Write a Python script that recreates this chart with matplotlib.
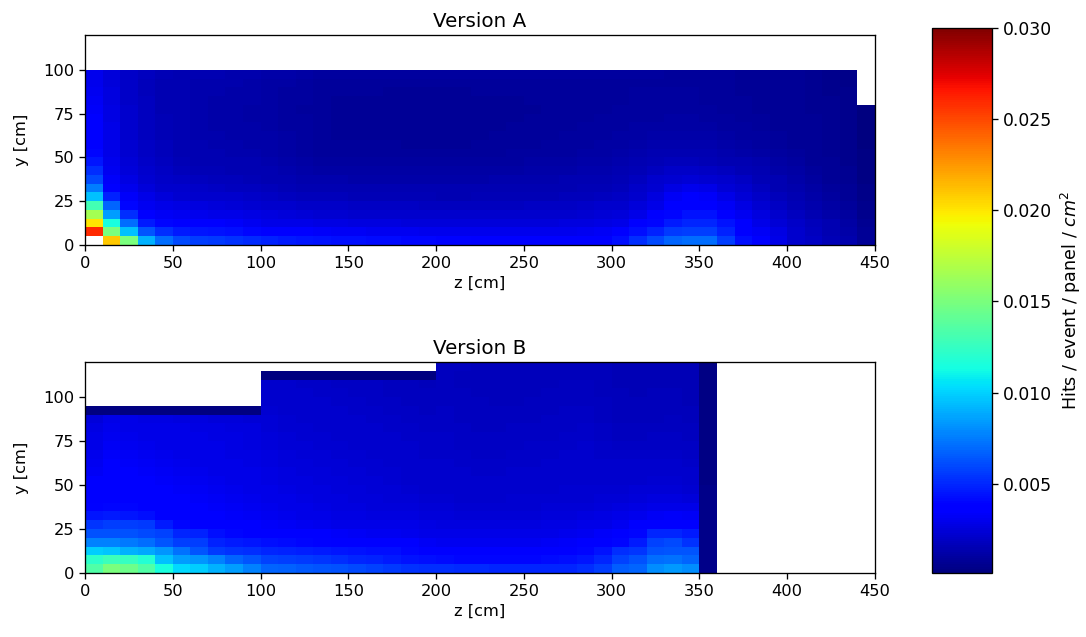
import numpy as np
import matplotlib
matplotlib.use("Agg")
import matplotlib.pyplot as plt

nan = np.nan

# hit rate per cell, in units of 1e-4 hits / event / panel / cm^2
# rows go from y=0 upward (5 cm each), columns from z=0 (10 cm each)
version_a = [
    [nan, 210, 150, 90, 70, 60, 56, 55, 53, 51, 48, 46, 45, 44, 43, 42, 41, 41, 40, 40, 39, 39, 38, 38, 38, 38, 38, 37, 37, 38, 42, 52, 60, 68, 70, 70, 56, 42, 35, 28, 22, 19, 16, 13, 8],
    [260, 150, 95, 63, 52, 46, 45, 44, 42, 40, 37, 35, 34, 33, 32, 32, 31, 31, 31, 30, 30, 30, 30, 30, 30, 30, 30, 30, 31, 32, 34, 42, 48, 55, 57, 56, 48, 38, 32, 27, 22, 18, 15, 12, 7],
    [200, 115, 70, 46, 40, 37, 36, 34, 33, 31, 29, 28, 28, 27, 27, 26, 26, 26, 25, 25, 25, 25, 25, 25, 25, 25, 25, 26, 26, 27, 29, 35, 40, 46, 50, 50, 44, 35, 29, 24, 20, 17, 14, 11, 6],
    [165, 85, 52, 36, 32, 31, 30, 29, 28, 27, 26, 25, 24, 23, 23, 22, 22, 22, 22, 21, 21, 21, 21, 21, 21, 22, 22, 22, 23, 24, 25, 29, 34, 40, 44, 44, 38, 31, 26, 22, 18, 15, 12, 10, 5],
    [130, 68, 40, 31, 28, 27, 26, 25, 24, 23, 22, 21, 20, 20, 20, 19, 19, 19, 19, 18, 18, 18, 18, 18, 18, 19, 19, 19, 20, 21, 22, 25, 29, 35, 38, 38, 32, 27, 23, 19, 16, 13, 11, 9, 5],
    [95, 48, 33, 28, 25, 23, 22, 21, 21, 20, 19, 18, 17, 17, 17, 16, 16, 16, 16, 16, 15, 15, 16, 16, 16, 16, 16, 17, 17, 18, 19, 22, 26, 32, 34, 33, 28, 24, 20, 17, 14, 12, 10, 8, 4],
    [75, 38, 30, 25, 22, 21, 20, 19, 18, 18, 17, 16, 15, 15, 15, 14, 14, 14, 14, 14, 14, 14, 14, 14, 14, 14, 15, 15, 16, 16, 17, 20, 23, 27, 30, 28, 24, 21, 18, 15, 13, 11, 9, 7, 4],
    [60, 33, 27, 23, 20, 19, 18, 17, 17, 16, 15, 14, 13, 13, 13, 12, 12, 12, 12, 12, 12, 12, 12, 13, 13, 13, 13, 14, 14, 15, 16, 18, 21, 23, 24, 23, 21, 19, 16, 14, 12, 10, 8, 6, 3],
    [52, 31, 25, 21, 19, 17, 16, 16, 15, 15, 14, 13, 12, 11, 11, 11, 11, 11, 11, 11, 11, 11, 11, 11, 11, 12, 12, 12, 13, 13, 14, 16, 18, 20, 20, 19, 18, 16, 14, 12, 11, 9, 7, 6, 3],
    [45, 30, 24, 20, 18, 16, 15, 15, 14, 14, 13, 12, 11, 10, 10, 10, 10, 10, 10, 10, 10, 10, 10, 10, 10, 11, 11, 11, 12, 12, 13, 14, 16, 17, 17, 16, 15, 14, 13, 11, 10, 8, 7, 5, 3],
    [40, 29, 23, 19, 17, 15, 14, 14, 13, 13, 12, 11, 10, 9, 9, 9, 9, 9, 9, 9, 9, 9, 9, 9, 10, 10, 10, 10, 11, 11, 12, 13, 14, 15, 15, 14, 13, 12, 11, 10, 9, 8, 6, 5, 3],
    [38, 29, 23, 19, 17, 15, 14, 13, 13, 12, 12, 11, 10, 9, 9, 9, 9, 9, 8, 8, 8, 8, 9, 9, 9, 9, 10, 10, 10, 11, 11, 12, 13, 13, 13, 13, 12, 11, 10, 9, 8, 7, 6, 5, 2],
    [36, 28, 22, 18, 16, 14, 13, 13, 12, 12, 12, 11, 10, 9, 8, 8, 8, 8, 8, 8, 8, 8, 8, 9, 9, 9, 9, 10, 10, 10, 11, 11, 12, 12, 12, 12, 11, 10, 10, 9, 8, 7, 6, 5, 2],
    [35, 28, 22, 18, 16, 14, 13, 12, 12, 12, 11, 10, 10, 9, 8, 8, 8, 8, 8, 8, 8, 8, 8, 8, 9, 9, 9, 9, 10, 10, 10, 11, 11, 11, 11, 11, 10, 10, 9, 8, 8, 7, 6, 5, 2],
    [34, 27, 21, 18, 16, 14, 13, 12, 12, 11, 11, 10, 10, 9, 8, 8, 8, 8, 8, 8, 8, 8, 8, 8, 8, 9, 9, 9, 9, 10, 10, 10, 10, 11, 11, 10, 10, 9, 9, 8, 7, 7, 6, 5, 2],
    [33, 27, 21, 18, 15, 14, 13, 12, 12, 11, 11, 10, 9, 9, 8, 8, 8, 8, 8, 8, 8, 8, 8, 8, 8, 8, 9, 9, 9, 9, 10, 10, 10, 10, 10, 10, 9, 9, 8, 8, 7, 6, 6, 5, 2],
    [32, 26, 20, 18, 15, 14, 13, 12, 12, 12, 11, 10, 10, 9, 8, 8, 8, 8, 8, 8, 8, 8, 8, 8, 8, 9, 9, 9, 9, 9, 9, 10, 10, 10, 10, 9, 9, 9, 8, 8, 7, 6, 6, 5, nan],
    [31, 26, 20, 17, 15, 14, 13, 13, 12, 12, 11, 10, 10, 9, 9, 9, 9, 8, 8, 8, 8, 8, 9, 9, 9, 9, 9, 9, 9, 9, 9, 10, 10, 10, 10, 9, 9, 8, 8, 7, 7, 6, 5, 5, nan],
    [30, 25, 20, 17, 15, 14, 13, 13, 13, 12, 11, 11, 10, 9, 9, 9, 9, 9, 9, 9, 9, 9, 9, 9, 9, 9, 9, 9, 9, 9, 9, 9, 9, 9, 9, 9, 9, 8, 8, 7, 7, 6, 5, 4, nan],
    [30, 25, 20, 18, 16, 15, 14, 14, 13, 13, 12, 12, 11, 10, 10, 10, 10, 10, 10, 10, 10, 10, 10, 10, 10, 10, 10, 10, 10, 10, 10, 10, 10, 9, 9, 9, 9, 8, 8, 7, 7, 6, 5, 4, nan],
]

version_b = [
    [135, 150, 145, 135, 115, 102, 98, 90, 85, 76, 68, 67, 65, 63, 62, 60, 58, 55, 53, 52, 52, 51, 51, 50, 50, 50, 50, 50, 52, 56, 66, 68, 80, 83, 80, 4],
    [122, 128, 125, 118, 95, 84, 82, 76, 68, 63, 58, 56, 55, 54, 52, 50, 48, 46, 44, 42, 41, 40, 40, 40, 40, 40, 41, 42, 45, 50, 58, 62, 70, 72, 68, 4],
    [98, 96, 90, 88, 82, 72, 64, 55, 53, 52, 50, 48, 47, 46, 45, 44, 43, 42, 40, 38, 36, 36, 36, 36, 36, 36, 37, 38, 40, 44, 52, 54, 62, 64, 63, 4],
    [76, 76, 74, 70, 64, 57, 56, 48, 46, 45, 42, 41, 40, 39, 38, 37, 36, 35, 34, 32, 31, 31, 31, 31, 31, 31, 32, 33, 35, 38, 40, 46, 58, 60, 53, 4],
    [62, 62, 62, 60, 58, 50, 48, 42, 40, 38, 37, 36, 35, 34, 33, 32, 31, 31, 30, 29, 28, 28, 28, 28, 28, 28, 29, 30, 31, 33, 36, 40, 50, 50, 46, 4],
    [54, 57, 57, 55, 46, 40, 38, 36, 35, 34, 33, 32, 31, 30, 29, 28, 28, 28, 28, 27, 26, 26, 26, 26, 26, 26, 27, 27, 28, 29, 31, 34, 37, 38, 36, 4],
    [45, 46, 45, 43, 38, 36, 35, 34, 33, 32, 31, 30, 29, 28, 27, 27, 26, 26, 26, 25, 25, 24, 24, 24, 24, 24, 25, 25, 26, 27, 28, 30, 32, 33, 32, 4],
    [39, 40, 40, 38, 36, 35, 34, 33, 32, 31, 30, 29, 28, 27, 26, 26, 25, 25, 25, 24, 24, 23, 23, 23, 23, 23, 24, 24, 24, 25, 26, 27, 29, 29, 28, 4],
    [37, 38, 38, 36, 35, 34, 33, 32, 31, 30, 29, 28, 27, 26, 26, 25, 25, 24, 24, 23, 23, 22, 22, 22, 23, 23, 23, 23, 23, 24, 24, 25, 26, 26, 25, 4],
    [35, 37, 36, 35, 34, 33, 32, 31, 30, 29, 28, 27, 26, 26, 25, 25, 24, 24, 23, 22, 22, 22, 21, 22, 22, 22, 22, 23, 23, 23, 23, 24, 24, 24, 23, 4],
    [34, 36, 35, 34, 33, 32, 31, 30, 29, 28, 27, 26, 26, 25, 25, 24, 24, 23, 22, 21, 22, 21, 21, 21, 21, 22, 22, 22, 22, 22, 22, 22, 23, 23, 22, 3],
    [32, 35, 34, 33, 32, 31, 30, 29, 28, 28, 27, 26, 25, 25, 24, 24, 23, 23, 22, 21, 21, 21, 20, 20, 21, 21, 21, 22, 22, 22, 21, 21, 22, 22, 21, 3],
    [31, 34, 33, 32, 31, 30, 29, 29, 28, 27, 26, 25, 25, 24, 24, 23, 23, 22, 22, 21, 21, 20, 20, 20, 20, 20, 21, 21, 22, 21, 21, 21, 21, 21, 20, 3],
    [30, 33, 32, 31, 30, 29, 29, 28, 27, 27, 26, 25, 24, 24, 23, 23, 22, 22, 21, 20, 20, 20, 19, 19, 20, 20, 20, 21, 21, 20, 20, 20, 20, 20, 19, 3],
    [29, 32, 31, 30, 29, 29, 28, 28, 27, 26, 25, 24, 24, 23, 23, 22, 22, 21, 21, 20, 20, 19, 19, 19, 19, 20, 20, 20, 21, 20, 19, 19, 19, 19, 19, 3],
    [28, 31, 30, 29, 29, 28, 28, 27, 27, 26, 25, 24, 23, 23, 22, 22, 21, 21, 20, 20, 20, 19, 19, 19, 19, 19, 19, 20, 20, 19, 18, 18, 19, 19, 18, 3],
    [27, 30, 29, 29, 28, 28, 27, 27, 26, 26, 24, 23, 23, 22, 22, 21, 21, 20, 20, 19, 19, 19, 18, 18, 19, 19, 19, 19, 20, 19, 18, 18, 18, 18, 18, 3],
    [25, 28, 28, 27, 27, 26, 26, 25, 25, 24, 24, 23, 22, 22, 21, 21, 20, 20, 19, 19, 19, 18, 18, 18, 18, 18, 19, 19, 19, 18, 17, 17, 17, 18, 17, 3],
    [1, 1, 1, 1, 1, 1, 1, 1, 1, 1, 23, 22, 22, 21, 21, 20, 20, 19, 19, 18, 19, 18, 18, 18, 18, 18, 18, 19, 19, 18, 17, 17, 17, 17, 17, 3],
    [nan, nan, nan, nan, nan, nan, nan, nan, nan, nan, 22, 22, 21, 21, 20, 20, 19, 19, 18, 18, 18, 18, 18, 17, 17, 18, 18, 18, 18, 18, 17, 17, 17, 17, 16, 3],
    [nan, nan, nan, nan, nan, nan, nan, nan, nan, nan, 22, 21, 21, 20, 20, 19, 19, 18, 18, 18, 18, 18, 17, 17, 17, 17, 18, 18, 18, 17, 17, 16, 17, 17, 16, 3],
    [nan, nan, nan, nan, nan, nan, nan, nan, nan, nan, 21, 21, 20, 20, 19, 19, 19, 18, 18, 17, 18, 17, 17, 17, 17, 17, 17, 18, 18, 17, 16, 16, 16, 16, 16, 3],
    [nan, nan, nan, nan, nan, nan, nan, nan, nan, nan, 1, 1, 1, 1, 1, 1, 1, 1, 1, 1, 18, 17, 17, 17, 17, 17, 17, 17, 17, 17, 16, 16, 16, 16, 16, 3],
    [nan, nan, nan, nan, nan, nan, nan, nan, nan, nan, nan, nan, nan, nan, nan, nan, nan, nan, nan, nan, 18, 18, 17, 17, 17, 17, 17, 17, 17, 17, 16, 16, 16, 16, 16, 3],
]

scale = 1e-4
vmin, vmax = 0.0001, 0.030
cbar_ticks = [0.005, 0.010, 0.015, 0.020, 0.025, 0.030]

plt.rcParams["font.size"] = 11.7
plt.rcParams["xtick.major.size"] = 4.1
plt.rcParams["ytick.major.size"] = 4.1
plt.rcParams["xtick.major.width"] = 0.95
plt.rcParams["ytick.major.width"] = 0.95
plt.rcParams["axes.linewidth"] = 0.95

fig = plt.figure(figsize=(10.86, 6.37), dpi=100)
ax_a = fig.add_axes([0.0783, 0.6154, 0.7274, 0.3297])
ax_b = fig.add_axes([0.0783, 0.1005, 0.7274, 0.3313])
cax = fig.add_axes([0.8582, 0.1005, 0.0552, 0.8556])

for ax, grid, title in [(ax_a, version_a, "Version A"), (ax_b, version_b, "Version B")]:
    vals = np.ma.masked_invalid(np.array(grid, dtype=float) * scale)
    ny, nz = vals.shape
    z_edges = np.arange(nz + 1) * 10
    y_edges = np.arange(ny + 1) * 5
    mesh = ax.pcolormesh(z_edges, y_edges, vals, cmap="jet", vmin=vmin, vmax=vmax)
    ax.set_xlim(0, 450)
    ax.set_ylim(0, 120)
    ax.set_xticks(np.arange(0, 451, 50))
    ax.set_yticks([0, 25, 50, 75, 100])
    ax.set_xlabel("z [cm]")
    ax.set_ylabel("y [cm]", labelpad=10)
    ax.set_title(title, fontsize=14.3)

cb = fig.colorbar(mesh, cax=cax, ticks=cbar_ticks)
cb.ax.set_yticklabels([f"{t:.3f}" for t in cbar_ticks])
cb.ax.tick_params(labelsize=12.4)
cb.set_label("Hits / event / panel / $cm^2$", fontsize=12.6, labelpad=5)

fig.savefig("out.png", dpi=100)
